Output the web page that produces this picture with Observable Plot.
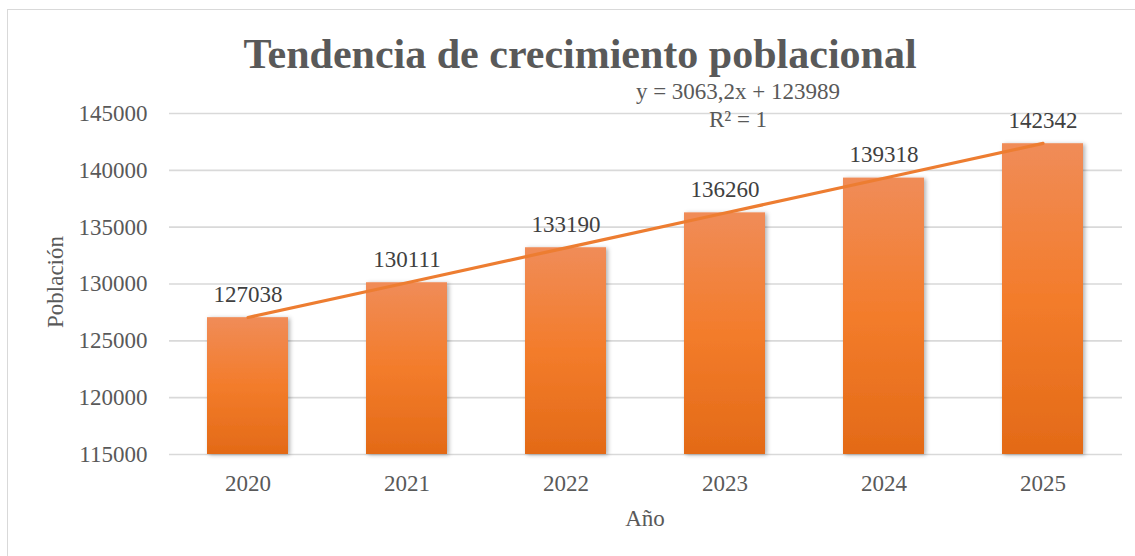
<!DOCTYPE html>
<html><head><meta charset="utf-8">
<script src="https://cdn.jsdelivr.net/npm/d3@7"></script>
<script src="https://cdn.jsdelivr.net/npm/@observablehq/plot@0.6"></script>
<style>
body{margin:0;background:#fff;}
#wrap{position:relative;width:1135px;height:556px;overflow:hidden;font-family:"Liberation Serif","Tinos","Nimbus Roman","DejaVu Serif",serif;color:#595959;background:#fff;}
.abs{position:absolute;white-space:nowrap;line-height:1;}
#chart{position:absolute;left:0;top:0;}
</style></head><body>
<div id="wrap">
  <div style="position:absolute;left:7px;top:9px;width:1150px;height:570px;border:1px solid #d9d9d9;"></div>
  <div id="chart"></div>
  <div class="abs" id="title" style="left:0;width:1160px;text-align:center;top:33px;font-size:42px;font-weight:bold;"></div>
  <div class="abs" id="eq1" style="left:0;width:1476px;text-align:center;top:80px;font-size:23px;"></div>
  <div class="abs" id="eq2" style="left:0;width:1476px;text-align:center;top:108px;font-size:23px;"></div>
  <div class="abs" id="ylab" style="left:55px;top:282px;font-size:23px;transform:translate(-50%,-50%) rotate(-90deg);"></div>
  <div class="abs" id="xlab" style="left:0;width:1290px;text-align:center;top:507px;font-size:23px;"></div>
</div>
<script>
const titleText = "Tendencia de crecimiento poblacional";
const equationLines = ["y = 3063,2x + 123989", "R² = 1"];
const xTitle = "Año";
const yTitle = "Población";
const years = ["2020", "2021", "2022", "2023", "2024", "2025"];
const population = [127038, 130111, 133190, 136260, 139318, 142342];
const trendValues = [127052, 130115, 133179, 136242, 139305, 142368];
const yTicks = [115000, 120000, 125000, 130000, 135000, 140000, 145000];
const yMin = 115000, yMax = 145000;

document.getElementById("title").textContent = titleText;
document.getElementById("eq1").textContent = equationLines[0];
document.getElementById("eq2").textContent = equationLines[1];
document.getElementById("xlab").textContent = xTitle;
document.getElementById("ylab").textContent = yTitle;

const data = years.map((year, i) => ({year, value: population[i]}));
const trend = years.map((year, i) => ({year, value: trendValues[i]}));

const chart = Plot.plot({
  width: 1135,
  height: 556,
  marginLeft: 169,
  marginRight: 13,
  marginTop: 113,
  marginBottom: 102,
  style: {fontFamily: '"Liberation Serif","Tinos","Nimbus Roman","DejaVu Serif",serif', fontSize: "23px", color: "#595959", background: "transparent", overflow: "visible"},
  x: {domain: years, paddingInner: 0.49, paddingOuter: 0.235, label: null, tickSize: 0, tickPadding: 20},
  y: {domain: [yMin, yMax], ticks: yTicks, tickFormat: d3.format("d"), label: null, tickSize: 0, tickPadding: 22},
  marks: [
    Plot.ruleY(yTicks, {stroke: "#d9d9d9", strokeWidth: 1.6}),
    Plot.barY(data, {x: "year", y1: yMin, y2: "value", fill: "url(#barGrad)"}),
    Plot.line(trend, {x: "year", y: "value", stroke: "#ED7D31", strokeWidth: 3.2}),
    Plot.text(data, {x: "year", y: "value", text: d => String(d.value), lineAnchor: "bottom", dy: -16, fill: "#404040", fontSize: 23})
  ]
});

const svg = d3.select(chart);
const defs = svg.insert("defs", ":first-child");
const g = defs.append("linearGradient").attr("id", "barGrad").attr("x1", 0).attr("y1", 0).attr("x2", 0).attr("y2", 1);
g.append("stop").attr("offset", "0%").attr("stop-color", "#F08C58");
g.append("stop").attr("offset", "50%").attr("stop-color", "#F37C2B");
g.append("stop").attr("offset", "100%").attr("stop-color", "#E36A17");
const f = defs.append("filter").attr("id", "shadow").attr("x", "-20%").attr("y", "-5%").attr("width", "140%").attr("height", "115%");
f.append("feDropShadow").attr("dx", 2).attr("dy", 1).attr("stdDeviation", 2).attr("flood-color", "#000").attr("flood-opacity", 0.3);
svg.selectAll('g[aria-label="bar"]').attr("filter", "url(#shadow)");

document.getElementById("chart").appendChild(chart);
</script>
</body></html>
